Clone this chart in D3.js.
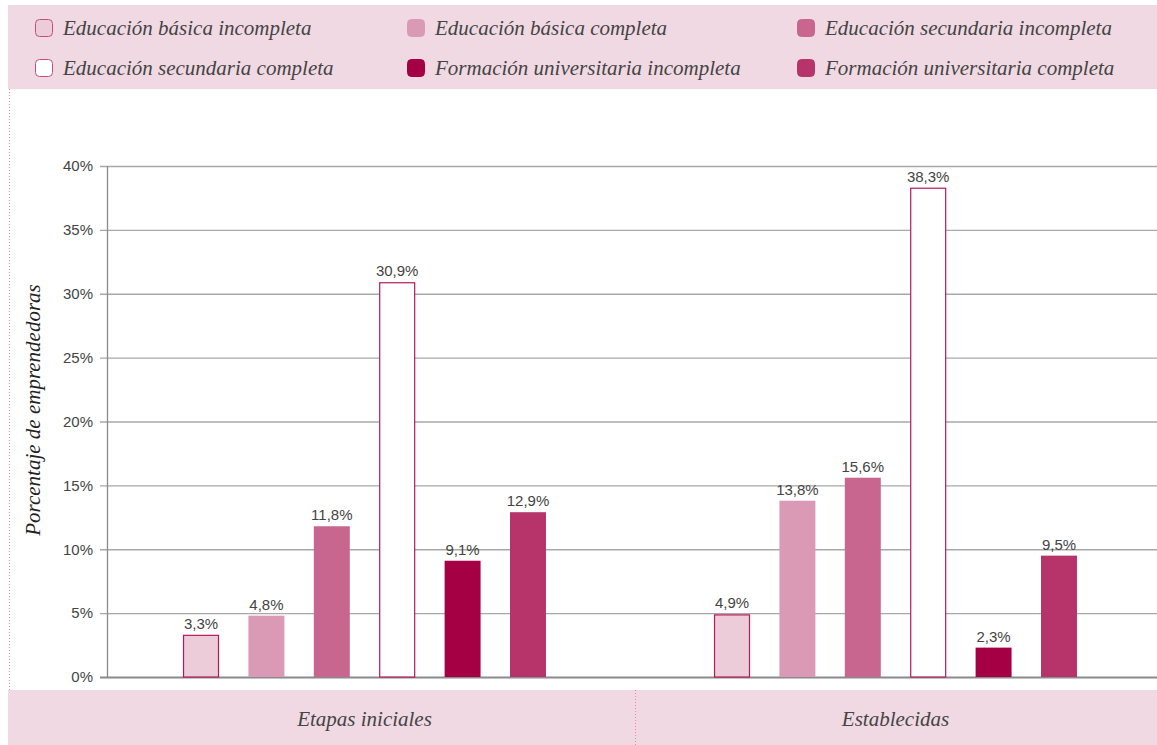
<!DOCTYPE html>
<html>
<head>
<meta charset="utf-8">
<script src="https://cdn.jsdelivr.net/npm/d3@7"></script>
<style>
  body { margin: 0; background: #fff; }
  svg { display: block; }
  .serif { font-family: "Liberation Serif", "DejaVu Serif", Tinos, "Times New Roman", Times, serif; font-style: italic; }
  .sans { font-family: "Liberation Sans", Arial, sans-serif; }
</style>
</head>
<body>
<div id="chart"></div>
<script>
// categories (stages) and series (education levels)
const stages = ['Etapas iniciales', 'Establecidas'];
const series = [
  'Educación básica incompleta',
  'Educación básica completa',
  'Educación secundaria incompleta',
  'Educación secundaria completa',
  'Formación universitaria incompleta',
  'Formación universitaria completa'
];
// values in %, one per series, for each stage
const inicialesValues = [3.3, 4.8, 11.8, 30.9, 9.1, 12.9];
const establecidasValues = [4.9, 13.8, 15.6, 38.3, 2.3, 9.5];
const yTicks = [0, 5, 10, 15, 20, 25, 30, 35, 40];

const fills = ['#ecccd9', '#da99b4', '#c8668f', '#ffffff', '#a60045', '#b7346b'];
const strokes = ['#b5195a', 'none', 'none', '#b5195a', 'none', 'none'];

const W = 1157, H = 745;
const band = '#f0d9e3';
const margin = {top: 166, right: 0, bottom: 67, left: 107};

const svg = d3.select('#chart').append('svg')
  .attr('width', W)
  .attr('height', H);

// legend background
svg.append('rect')
  .attr('x', 8).attr('y', 5)
  .attr('width', W - 8).attr('height', 84)
  .attr('fill', band);

// bottom category band
svg.append('rect')
  .attr('x', 8).attr('y', 690)
  .attr('width', W - 8).attr('height', 55)
  .attr('fill', band);

// dotted left line
svg.append('line')
  .attr('x1', 9.5).attr('x2', 9.5)
  .attr('y1', 89).attr('y2', 690)
  .attr('stroke', '#e58aa8')
  .attr('stroke-width', 1)
  .attr('stroke-dasharray', '1,2');

const plotW = W - margin.left - margin.right;
const plotH = H - margin.top - margin.bottom - 1; // 0% sits at y=678

// the group bands run a little past the visible plot on both sides
const x0 = d3.scaleBand()
  .domain(stages)
  .range([-8, plotW + 4]);

const x1 = d3.scaleBand()
  .domain(series)
  .range([0, x0.bandwidth()])
  .paddingInner(0.45)
  .paddingOuter(1.285);

const y = d3.scaleLinear()
  .domain([0, 40])
  .range([plotH, 0]);

const g = svg.append('g')
  .attr('transform', 'translate(' + margin.left + ',' + margin.top + ')');

// gridlines + tick labels
g.append('g')
  .attr('class', 'axis axis--y')
  .call(d3.axisLeft(y).tickValues(yTicks).tickSize(-plotW).tickPadding(14).tickFormat(d => d + '%'))
  .call(a => a.select('.domain').remove())
  .call(a => a.selectAll('.tick line')
    .attr('stroke', d => d === 0 ? '#8a8a8a' : '#a8a8a8')
    .attr('stroke-width', d => d === 0 ? 2 : 1.3)
    .attr('x1', -7))
  .call(a => a.selectAll('.tick text')
    .attr('class', 'sans')
    .attr('fill', '#444')
    .attr('font-size', 15));

// y axis line
g.append('line')
  .attr('x1', 0.5).attr('x2', 0.5)
  .attr('y1', 0).attr('y2', plotH)
  .attr('stroke', '#8a8a8a')
  .attr('stroke-width', 1.3);

const data = stages.map((s, i) => ({
  stage: s,
  values: (i === 0 ? inicialesValues : establecidasValues).map((v, j) => ({key: series[j], value: v, idx: j}))
}));

const groups = g.selectAll('.group').data(data)
  .enter().append('g')
  .attr('class', 'group')
  .attr('transform', d => 'translate(' + x0(d.stage) + ',0)');

groups.selectAll('.bar').data(d => d.values)
  .enter().append('rect')
  .attr('class', 'bar')
  .attr('x', d => x1(d.key) + (strokes[d.idx] === 'none' ? 0 : 0.5))
  .attr('y', d => y(d.value) + (strokes[d.idx] === 'none' ? 0 : 0.5))
  .attr('width', d => x1.bandwidth() - (strokes[d.idx] === 'none' ? 0 : 1))
  .attr('height', d => plotH - y(d.value) - (strokes[d.idx] === 'none' ? 0 : 0.5))
  .attr('fill', d => fills[d.idx])
  .attr('stroke', d => strokes[d.idx])
  .attr('stroke-width', 1.2);

groups.selectAll('.label').data(d => d.values)
  .enter().append('text')
  .attr('class', 'label sans')
  .attr('x', d => x1(d.key) + x1.bandwidth() / 2)
  .attr('y', d => y(d.value) - 6)
  .attr('text-anchor', 'middle')
  .attr('fill', '#444')
  .attr('font-size', 15)
  .text(d => d.value.toFixed(1).replace('.', ',') + '%');

// category labels in the bottom band
svg.selectAll('.cat').data(stages)
  .enter().append('text')
  .attr('class', 'cat serif')
  .attr('x', d => margin.left + x0(d) + x0.bandwidth() / 2)
  .attr('y', 726)
  .attr('text-anchor', 'middle')
  .attr('fill', '#444')
  .attr('font-size', 21)
  .text(d => d);

// divider between categories
svg.append('line')
  .attr('x1', 635.5).attr('x2', 635.5)
  .attr('y1', 690).attr('y2', 745)
  .attr('stroke', '#e58aa8')
  .attr('stroke-dasharray', '1,2');

// y axis title
svg.append('text')
  .attr('class', 'serif')
  .attr('transform', 'translate(40,410) rotate(-90)')
  .attr('text-anchor', 'middle')
  .attr('fill', '#222')
  .attr('font-size', 21)
  .text('Porcentaje de emprendedoras');

// legend
const legendCols = [35, 407, 797];
const legendRows = [28, 68];
const legend = svg.selectAll('.legend').data(series)
  .enter().append('g')
  .attr('class', 'legend')
  .attr('transform', (d, i) => 'translate(' + legendCols[i % 3] + ',' + legendRows[Math.floor(i / 3)] + ')');

legend.append('rect')
  .attr('x', 0.5).attr('y', -8.5)
  .attr('width', 17).attr('height', 17)
  .attr('rx', 4)
  .attr('fill', (d, i) => fills[i])
  .attr('stroke', (d, i) => strokes[i] === 'none' ? fills[i] : '#c0507e')
  .attr('stroke-width', 1);

legend.append('text')
  .attr('class', 'serif')
  .attr('x', 28)
  .attr('y', 7)
  .attr('fill', '#444')
  .attr('font-size', 21)
  .text(d => d);
</script>
</body>
</html>
